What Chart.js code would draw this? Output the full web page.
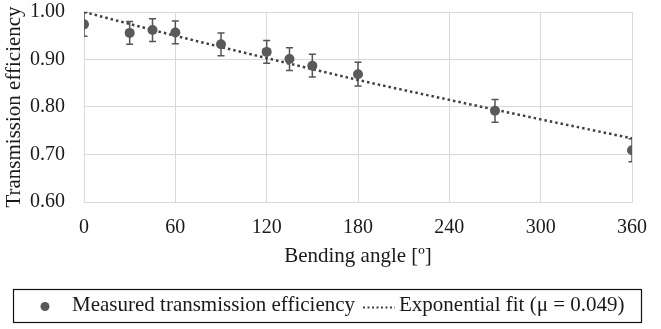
<!DOCTYPE html>
<html>
<head>
<meta charset="utf-8">
<script src="https://cdn.jsdelivr.net/npm/chart.js@4/dist/chart.umd.min.js"></script>
<style>
  body { margin: 0; background: #fff; }
  canvas { display: block; }
</style>
</head>
<body>
<canvas id="bend" width="661" height="329"></canvas>
<script>
// measured points (bending angle in degrees)
var angles = [0, 30, 45, 60, 90, 120, 135, 150, 180, 270, 360]
var efficiency = [0.974, 0.956, 0.962, 0.957, 0.932, 0.916, 0.901, 0.887, 0.869, 0.792, 0.709]
var errors = [0.025, 0.024, 0.024, 0.024, 0.024, 0.024, 0.024, 0.024, 0.025, 0.024, 0.024]

// exponential fit
var fitAngles = [0, 60, 120, 180, 240, 300, 360]
var fitValues = [1.000, 0.950, 0.903, 0.857, 0.815, 0.774, 0.734]

var xTicks = [0, 60, 120, 180, 240, 300, 360]
var yTicks = [0.60, 0.70, 0.80, 0.90, 1.00]

var serif = '"Liberation Serif", "Times New Roman", serif'
var textColor = '#1a1a1a'
var gridColor = '#d9d9d9'

// error bars drawn through the chart scales
const errorBars = {
  id: 'errorBars',
  beforeDatasetsDraw(chart) {
    const ctx = chart.ctx
    const xs = chart.scales.x, ys = chart.scales.y
    const a = chart.chartArea
    ctx.save()
    ctx.beginPath()
    ctx.rect(a.left, a.top - 1, a.right - a.left, a.bottom - a.top + 2)
    ctx.clip()
    ctx.strokeStyle = '#555555'
    ctx.lineWidth = 1.5
    for (let i = 0; i < angles.length; i++) {
      const px = xs.getPixelForValue(angles[i])
      const top = ys.getPixelForValue(efficiency[i] + errors[i])
      const bot = ys.getPixelForValue(efficiency[i] - errors[i])
      ctx.beginPath()
      ctx.moveTo(px, top); ctx.lineTo(px, bot)
      ctx.moveTo(px - 3.5, top); ctx.lineTo(px + 3.5, top)
      ctx.moveTo(px - 3.5, bot); ctx.lineTo(px + 3.5, bot)
      ctx.stroke()
    }
    ctx.restore()
  }
}

// boxed legend under the x axis title
const boxLegend = {
  id: 'boxLegend',
  afterDraw(chart) {
    const ctx = chart.ctx
    const ds = chart.data.datasets
    ctx.save()
    ctx.strokeStyle = '#111'
    ctx.lineWidth = 1.2
    ctx.strokeRect(13.5, 289.5, 628, 33)
    const cy = 306.5
    ctx.fillStyle = ds[0].backgroundColor
    ctx.beginPath()
    ctx.arc(45, cy, 4.5, 0, Math.PI * 2)
    ctx.fill()
    ctx.font = '21px ' + serif
    ctx.fillStyle = textColor
    ctx.textBaseline = 'middle'
    ctx.fillText(ds[0].label, 72, cy - 1)
    ctx.strokeStyle = ds[1].borderColor
    ctx.lineWidth = 2
    ctx.setLineDash([2, 2.5])
    ctx.beginPath()
    ctx.moveTo(363, cy + 1); ctx.lineTo(395, cy + 1)
    ctx.stroke()
    ctx.setLineDash([])
    ctx.fillText(ds[1].label, 399, cy - 1)
    ctx.restore()
  }
}

let chart = new Chart(document.getElementById('bend').getContext('2d'), {
  type: 'scatter',
  data: {
    datasets: [{
      label: 'Measured transmission efficiency',
      data: angles.map((a, i) => ({x: a, y: efficiency[i]})),
      backgroundColor: '#5a5a5a',
      borderWidth: 0,
      pointRadius: 5,
      order: 0
    }, {
      type: 'line',
      label: 'Exponential fit (\u03bc = 0.049)',
      data: fitAngles.map((a, i) => ({x: a, y: fitValues[i]})),
      borderColor: '#404040',
      borderWidth: 2.5,
      borderDash: [2.5, 3],
      pointRadius: 0,
      cubicInterpolationMode: 'monotone',
      fill: false,
      order: 1
    }]
  },
  options: {
    responsive: false,
    animation: false,
    layout: { padding: { top: 12, right: 21, bottom: 56, left: 0 } },
    plugins: { legend: { display: false }, tooltip: { enabled: false } },
    scales: {
      x: {
        type: 'linear',
        min: 0, max: 360,
        afterBuildTicks: s => { s.ticks = xTicks.map(v => ({value: v})) },
        afterFit: s => { s.height = 71 },
        ticks: { padding: 14, color: textColor, font: { family: serif, size: 20 } },
        grid: { color: gridColor, drawTicks: false },
        border: { color: gridColor },
        title: {
          display: true, text: 'Bending angle [\u00ba]', color: textColor,
          font: { family: serif, size: 21 }, padding: { top: 0, bottom: 4 }
        }
      },
      y: {
        min: 0.6, max: 1.0,
        afterBuildTicks: s => { s.ticks = yTicks.map(v => ({value: v})) },
        afterFit: s => { s.width = 84; s.paddingTop = 0; s.paddingBottom = 0 },
        ticks: {
          padding: 19, color: textColor, font: { family: serif, size: 20 },
          callback: v => v.toFixed(2)
        },
        grid: { color: gridColor, drawTicks: false },
        border: { color: gridColor },
        title: {
          display: true, text: 'Transmission efficiency', color: textColor,
          font: { family: serif, size: 21 }, padding: { top: 2, bottom: 0 }
        }
      }
    }
  },
  plugins: [errorBars, boxLegend]
});
</script>
</body>
</html>
